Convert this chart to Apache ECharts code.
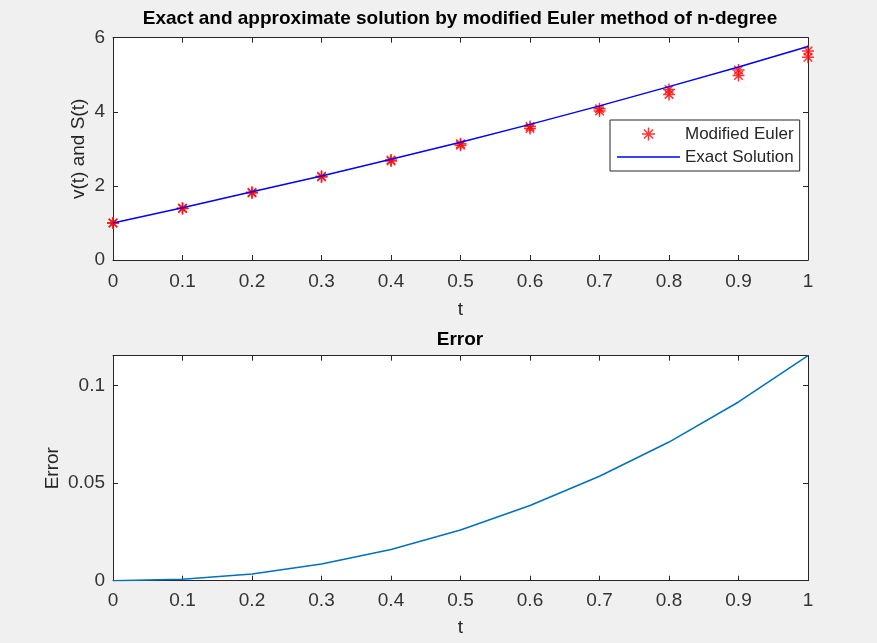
<!DOCTYPE html>
<html>
<head>
<meta charset="utf-8">
<script src="https://cdn.jsdelivr.net/npm/echarts@6/dist/echarts.min.js"></script>
<style>
  html, body { margin: 0; padding: 0; background: #f0f0f0; }
  #chart { width: 877px; height: 643px; }
</style>
</head>
<body>
<div id="chart"></div>
<script>
// Time steps
const t = [0, 0.1, 0.2, 0.3, 0.4, 0.5, 0.6, 0.7, 0.8, 0.9, 1.0];
// Modified Euler approximations: v(t) and S(t)
const vEuler = [1.00, 1.40, 1.83, 2.26, 2.70, 3.14, 3.60, 4.08, 4.60, 5.13, 5.64];
const sEuler = [1.00, 1.39, 1.81, 2.24, 2.67, 3.10, 3.55, 4.02, 4.47, 4.98, 5.47];
// Exact solution
const exact = [1.00, 1.41, 1.84, 2.27, 2.72, 3.18, 3.66, 4.16, 4.68, 5.21, 5.76];
// Absolute error
const errorVals = [0, 0.0008, 0.0034, 0.0085, 0.0160, 0.0260, 0.0385, 0.0535, 0.0710, 0.0915, 0.1152];
// Tick settings
const tTicks = { min: 0, max: 1, interval: 0.1 };
const yTopTicks = { min: 0, max: 6, interval: 2 };
const yErrTicks = { min: 0, max: 0.1152, interval: 0.05 };

const pairs = (xs, ys) => xs.map((x, i) => [x, ys[i]]);

const FONT = 'Liberation Sans, Arial, Helvetica, sans-serif';
const AX = '#262626';
const LBL = '#333333';
// Asterisk marker drawn as strokes
const STAR = 'path://M5,0L5,10M0,5L10,5M1.46,1.46L8.54,8.54M1.46,8.54L8.54,1.46';
// Thin horizontal bar used as the line sample in the legend
const LINE_ICON = 'path://M0,0L63,0L63,1.5L0,1.5Z';

function xAx(grid, pos, showLabels, name, gap, margin) {
  return {
    type: 'value', gridIndex: grid, position: pos,
    min: tTicks.min, max: tTicks.max, interval: tTicks.interval,
    name: name || '', nameLocation: 'middle', nameGap: gap || 0,
    nameTextStyle: { fontFamily: FONT, fontSize: 19, color: AX },
    axisLine: { show: true, onZero: false, lineStyle: { color: AX, width: 1 } },
    axisTick: { show: true, inside: true, length: 5, lineStyle: { color: AX } },
    axisLabel: {
      show: showLabels, margin: margin || 12, fontFamily: FONT, fontSize: 19, color: LBL,
      formatter: v => (Math.round(v * 10) / 10).toString()
    },
    splitLine: { show: false }
  };
}

function yAx(grid, pos, showLabels, ticks, name, gap, fmt) {
  return {
    type: 'value', gridIndex: grid, position: pos,
    min: ticks.min, max: ticks.max, interval: ticks.interval,
    name: name || '', nameLocation: 'middle', nameGap: gap || 0, nameMoveOverlap: false,
    nameTextStyle: { fontFamily: FONT, fontSize: 19, color: AX },
    axisLine: { show: true, onZero: false, lineStyle: { color: AX, width: 1 } },
    axisTick: { show: true, inside: true, length: 5, lineStyle: { color: AX } },
    axisLabel: { show: showLabels, margin: 8, fontFamily: FONT, fontSize: 19, color: LBL, formatter: fmt },
    splitLine: { show: false }
  };
}

const onStep = step => v => {
  const k = v / step;
  if (Math.abs(k - Math.round(k)) > 1e-6) return '';
  return (Math.round(k) * step).toFixed(step < 0.1 ? 2 : 0).replace(/\.?0+$/, '') || '0';
};

const chart = echarts.init(document.getElementById('chart'), null, { renderer: 'canvas' });
chart.setOption({
  animation: false,
  backgroundColor: '#f0f0f0',
  title: [
    {
      text: 'Exact and approximate solution by modified Euler method of n-degree',
      left: 460, top: 9, textAlign: 'center', padding: 0,
      textStyle: { fontFamily: FONT, fontSize: 19, fontWeight: 'bold', color: '#000' }
    },
    {
      text: 'Error',
      left: 460, top: 330, textAlign: 'center', padding: 0,
      textStyle: { fontFamily: FONT, fontSize: 19, fontWeight: 'bold', color: '#000' }
    }
  ],
  legend: {
    orient: 'vertical', left: 610, top: 120,
    padding: [5.5, 6, 5.5, 7], itemGap: 6, itemWidth: 63, itemHeight: 13,
    backgroundColor: '#ffffff', borderColor: AX, borderWidth: 1, borderRadius: 0,
    textStyle: { fontFamily: FONT, fontSize: 17, color: AX },
    selectedMode: false,
    data: [
      { name: 'Modified Euler', icon: STAR, itemStyle: { color: 'transparent', borderColor: '#ff0000', borderWidth: 1.4 } },
      { name: 'Exact Solution', icon: LINE_ICON, itemStyle: { color: '#0000ff', borderWidth: 0 } }
    ]
  },
  grid: [
    { left: 113, top: 37.7, width: 695, height: 222.3, show: true, backgroundColor: '#ffffff', borderWidth: 0 },
    { left: 113, top: 355.7, width: 695, height: 225, show: true, backgroundColor: '#ffffff', borderWidth: 0 }
  ],
  xAxis: [
    xAx(0, 'bottom', true, 't', 40, 12),
    xAx(0, 'top', false),
    xAx(1, 'bottom', true, 't', 38, 11),
    xAx(1, 'top', false)
  ],
  yAxis: [
    yAx(0, 'left', true, yTopTicks, 'v(t) and S(t)', 25, onStep(2)),
    yAx(0, 'right', false, yTopTicks),
    yAx(1, 'left', true, yErrTicks, 'Error', 51, onStep(0.05)),
    yAx(1, 'right', false, yErrTicks)
  ],
  series: [
    {
      name: 'Modified Euler', type: 'scatter', xAxisIndex: 0, yAxisIndex: 0,
      symbol: STAR, symbolSize: 12,
      itemStyle: { color: 'transparent', borderColor: '#ff0000', borderWidth: 1.5 },
      emphasis: { disabled: true },
      data: pairs(t, vEuler)
    },
    {
      name: 'Modified Euler', type: 'scatter', xAxisIndex: 0, yAxisIndex: 0,
      symbol: STAR, symbolSize: 12,
      itemStyle: { color: 'transparent', borderColor: '#ff0000', borderWidth: 1.5 },
      emphasis: { disabled: true },
      data: pairs(t, sEuler)
    },
    {
      name: 'Exact Solution', type: 'line', xAxisIndex: 0, yAxisIndex: 0,
      symbol: 'none', showSymbol: false,
      lineStyle: { color: '#0000ff', width: 1.5 },
      itemStyle: { color: '#0000ff' },
      emphasis: { disabled: true },
      data: pairs(t, exact)
    },
    {
      name: 'Error', type: 'line', xAxisIndex: 2, yAxisIndex: 2,
      symbol: 'none', showSymbol: false,
      lineStyle: { color: '#0072bd', width: 1.5 },
      emphasis: { disabled: true },
      data: pairs(t, errorVals)
    }
  ]
});
</script>
</body>
</html>
